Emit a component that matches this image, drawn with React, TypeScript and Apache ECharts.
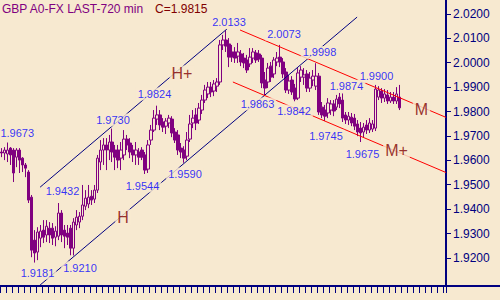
import React, { useEffect, useRef } from "react";
import * as echarts from "echarts";

const BG = "#F7E9D0";
const PURPLE = "#800080";
const NAVY = "#000080";
const DARKRED = "#800000";
const BLUE = "#0000FF";
const RED = "#FF0000";
const FONT = '"Liberation Sans", Arial, sans-serif';

const titleText = "GBP A0-FX LAST-720 min";

// 720-minute bars: [open, close, low, high]
const candles: number[][] = [
  [1.9634, 1.9630, 1.9613, 1.9650],
  [1.9630, 1.9642, 1.9601, 1.9654],
  [1.9626, 1.9642, 1.9593, 1.9673],
  [1.9650, 1.9622, 1.9581, 1.9654],
  [1.9642, 1.9548, 1.9511, 1.9650],
  [1.9613, 1.9642, 1.9572, 1.9650],
  [1.9642, 1.9601, 1.9548, 1.9650],
  [1.9609, 1.9581, 1.9552, 1.9613],
  [1.9581, 1.9568, 1.9531, 1.9589],
  [1.9552, 1.9437, 1.9425, 1.9560],
  [1.9449, 1.9232, 1.9203, 1.9458],
  [1.9273, 1.9220, 1.9181, 1.9314],
  [1.9224, 1.9306, 1.9191, 1.9326],
  [1.9281, 1.9310, 1.9244, 1.9335],
  [1.9314, 1.9285, 1.9261, 1.9355],
  [1.9294, 1.9330, 1.9265, 1.9355],
  [1.9322, 1.9294, 1.9261, 1.9347],
  [1.9322, 1.9281, 1.9253, 1.9343],
  [1.9285, 1.9310, 1.9248, 1.9330],
  [1.9289, 1.9384, 1.9273, 1.9425],
  [1.9384, 1.9294, 1.9265, 1.9396],
  [1.9314, 1.9289, 1.9240, 1.9335],
  [1.9302, 1.9285, 1.9253, 1.9335],
  [1.9322, 1.9240, 1.9211, 1.9335],
  [1.9240, 1.9347, 1.9210, 1.9363],
  [1.9335, 1.9367, 1.9314, 1.9396],
  [1.9347, 1.9371, 1.9322, 1.9388],
  [1.9371, 1.9417, 1.9355, 1.9499],
  [1.9412, 1.9445, 1.9396, 1.9478],
  [1.9421, 1.9449, 1.9404, 1.9499],
  [1.9453, 1.9437, 1.9417, 1.9478],
  [1.9441, 1.9478, 1.9425, 1.9499],
  [1.9478, 1.9609, 1.9466, 1.9622],
  [1.9593, 1.9642, 1.9560, 1.9683],
  [1.9642, 1.9663, 1.9581, 1.9691],
  [1.9663, 1.9642, 1.9560, 1.9691],
  [1.9642, 1.9675, 1.9601, 1.9704],
  [1.9675, 1.9634, 1.9593, 1.9730],
  [1.9642, 1.9613, 1.9560, 1.9663],
  [1.9642, 1.9601, 1.9568, 1.9663],
  [1.9609, 1.9642, 1.9560, 1.9675],
  [1.9622, 1.9687, 1.9601, 1.9724],
  [1.9687, 1.9663, 1.9642, 1.9704],
  [1.9671, 1.9634, 1.9609, 1.9691],
  [1.9642, 1.9622, 1.9593, 1.9663],
  [1.9622, 1.9642, 1.9581, 1.9675],
  [1.9634, 1.9613, 1.9581, 1.9650],
  [1.9642, 1.9613, 1.9601, 1.9654],
  [1.9622, 1.9560, 1.9544, 1.9634],
  [1.9564, 1.9663, 1.9548, 1.9683],
  [1.9683, 1.9724, 1.9663, 1.9745],
  [1.9724, 1.9773, 1.9716, 1.9806],
  [1.9769, 1.9786, 1.9745, 1.9824],
  [1.9786, 1.9745, 1.9724, 1.9806],
  [1.9757, 1.9736, 1.9716, 1.9773],
  [1.9740, 1.9761, 1.9708, 1.9773],
  [1.9753, 1.9773, 1.9732, 1.9786],
  [1.9769, 1.9712, 1.9695, 1.9781],
  [1.9716, 1.9683, 1.9671, 1.9732],
  [1.9704, 1.9642, 1.9622, 1.9724],
  [1.9650, 1.9634, 1.9609, 1.9671],
  [1.9642, 1.9609, 1.9590, 1.9658],
  [1.9617, 1.9683, 1.9601, 1.9716],
  [1.9687, 1.9749, 1.9675, 1.9786],
  [1.9753, 1.9773, 1.9732, 1.9806],
  [1.9786, 1.9753, 1.9724, 1.9814],
  [1.9765, 1.9814, 1.9749, 1.9835],
  [1.9806, 1.9847, 1.9790, 1.9868],
  [1.9847, 1.9888, 1.9835, 1.9909],
  [1.9872, 1.9900, 1.9855, 1.9921],
  [1.9900, 1.9880, 1.9859, 1.9921],
  [1.9884, 1.9913, 1.9863, 1.9929],
  [1.9904, 1.9921, 1.9880, 1.9937],
  [1.9921, 2.0073, 1.9909, 2.0093],
  [2.0073, 2.0093, 2.0052, 2.0114],
  [2.0093, 2.0068, 2.0044, 2.0133],
  [2.0077, 2.0023, 1.9982, 2.0101],
  [2.0044, 2.0023, 2.0003, 2.0073],
  [2.0044, 2.0019, 1.9999, 2.0064],
  [2.0027, 2.0044, 1.9999, 2.0081],
  [2.0036, 2.0003, 1.9986, 2.0052],
  [2.0019, 1.9999, 1.9978, 2.0040],
  [2.0011, 1.9970, 1.9958, 2.0032],
  [1.9995, 2.0023, 1.9982, 2.0060],
  [2.0019, 2.0044, 1.9999, 2.0060],
  [2.0040, 2.0011, 1.9999, 2.0052],
  [2.0036, 2.0015, 2.0003, 2.0052],
  [2.0019, 1.9917, 1.9896, 2.0032],
  [1.9929, 1.9896, 1.9863, 1.9962],
  [1.9921, 1.9978, 1.9896, 1.9999],
  [1.9986, 1.9941, 1.9921, 2.0003],
  [1.9954, 2.0011, 1.9937, 2.0023],
  [2.0003, 2.0019, 1.9986, 2.0044],
  [2.0023, 2.0003, 1.9982, 2.0073],
  [2.0003, 1.9954, 1.9937, 2.0019],
  [1.9962, 1.9888, 1.9876, 1.9978],
  [1.9888, 1.9925, 1.9872, 1.9950],
  [1.9929, 1.9880, 1.9868, 1.9945],
  [1.9896, 1.9851, 1.9842, 1.9913],
  [1.9855, 1.9958, 1.9847, 1.9978],
  [1.9941, 1.9970, 1.9921, 1.9986],
  [1.9941, 1.9950, 1.9909, 1.9978],
  [1.9954, 1.9896, 1.9880, 1.9970],
  [1.9896, 1.9937, 1.9880, 1.9962],
  [1.9929, 1.9945, 1.9904, 1.9970],
  [1.9904, 1.9945, 1.9888, 1.9998],
  [1.9945, 1.9798, 1.9786, 1.9958],
  [1.9818, 1.9786, 1.9773, 1.9839],
  [1.9806, 1.9781, 1.9761, 1.9827],
  [1.9794, 1.9835, 1.9773, 1.9855],
  [1.9806, 1.9831, 1.9786, 1.9847],
  [1.9831, 1.9802, 1.9781, 1.9847],
  [1.9818, 1.9851, 1.9806, 1.9868],
  [1.9859, 1.9831, 1.9814, 1.9876],
  [1.9847, 1.9773, 1.9757, 1.9874],
  [1.9786, 1.9765, 1.9749, 1.9798],
  [1.9765, 1.9781, 1.9745, 1.9798],
  [1.9777, 1.9753, 1.9740, 1.9794],
  [1.9773, 1.9740, 1.9724, 1.9790],
  [1.9749, 1.9716, 1.9699, 1.9765],
  [1.9732, 1.9712, 1.9675, 1.9757],
  [1.9716, 1.9736, 1.9695, 1.9753],
  [1.9745, 1.9724, 1.9708, 1.9765],
  [1.9724, 1.9753, 1.9712, 1.9773],
  [1.9728, 1.9749, 1.9716, 1.9765],
  [1.9732, 1.9892, 1.9720, 1.9909],
  [1.9859, 1.9888, 1.9847, 1.9904],
  [1.9884, 1.9855, 1.9835, 1.9896],
  [1.9855, 1.9872, 1.9839, 1.9892],
  [1.9868, 1.9843, 1.9831, 1.9888],
  [1.9843, 1.9859, 1.9835, 1.9880],
  [1.9859, 1.9843, 1.9831, 1.9880],
  [1.9843, 1.9872, 1.9831, 1.9900],
  [1.9859, 1.9815, 1.9806, 1.9909],
];

// number of bar slots on the time axis (includes empty space to the right)
const slotCount = 149;
const slots = Array.from({ length: slotCount }, (_, i) => String(i));

// price axis
const priceMin = 1.9085;
const priceMax = 2.0257;
const priceTicks = [1.92, 1.93, 1.94, 1.95, 1.96, 1.97, 1.98, 1.99, 2.0, 2.01, 2.02];

// trend channels: [bar index, price]
const riseUpper = [[12.9, 1.949], [75.3, 2.0138]];
const riseLower = [[12.9, 1.9089], [118.8, 2.0187]];
const fallUpper = [[79.7, 2.0134], [148.5, 1.9776]];
const fallLower = [[77.3, 1.9921], [148.5, 1.955]];

// pivot value labels: [bar index, price, text]
const pivotLabels: [number, number, string][] = [
  [5.25, 1.9712, "1.9673"],
  [37.25, 1.9765, "1.9730"],
  [51.1, 1.9872, "1.9824"],
  [76.0, 2.0165, "2.0133"],
  [20.38, 1.9474, "1.9432"],
  [12.03, 1.9138, "1.9181"],
  [26.23, 1.916, "1.9210"],
  [47.11, 1.9495, "1.9544"],
  [61.3, 1.9544, "1.9590"],
  [94.38, 2.0118, "2.0073"],
  [106.24, 2.0042, "1.9998"],
  [85.52, 1.9831, "1.9863"],
  [97.72, 1.9802, "1.9842"],
  [115.26, 1.9904, "1.9874"],
  [125.28, 1.9945, "1.9900"],
  [108.41, 1.9699, "1.9745"],
  [120.6, 1.9626, "1.9675"],
];

// channel names: [bar index, price, text]
const channelNames: [number, number, string][] = [
  [60.3, 1.9956, "H+"],
  [40.59, 1.9367, "H"],
  [140.3, 1.981, "M"],
  [131.96, 1.964, "M+"],
];

const lastClose = candles[candles.length - 1][1];

export default function App() {
  const ref = useRef<HTMLDivElement>(null);
  useEffect(() => {
    if (!ref.current) return;
    const chart = echarts.init(ref.current, undefined, { renderer: "svg" });
    const lineSeries = (data: number[][], color: string) => ({
      type: "line",
      xAxisIndex: 1,
      data,
      symbol: "none",
      silent: true,
      z: 3,
      lineStyle: { color, width: 1 },
    });
    const option: any = {
      animation: false,
      backgroundColor: BG,
      title: {
        left: 2,
        top: 3,
        padding: 0,
        text: `{a|${titleText}}{b|C=${lastClose.toFixed(4)}}`,
        textStyle: {
          fontSize: 12,
          fontWeight: "normal",
          fontFamily: FONT,
          rich: {
            a: { color: PURPLE, fontSize: 12, fontFamily: FONT },
            b: { color: DARKRED, fontSize: 12, fontFamily: FONT, padding: [0, 0, 0, 11] },
          },
        },
      },
      grid: { left: 0, right: 54, top: 0, bottom: 14, containLabel: false },
      xAxis: [
        {
          type: "category",
          data: slots,
          boundaryGap: true,
          axisLine: { onZero: false, lineStyle: { color: NAVY, width: 2 } },
          axisTick: { show: true, interval: 1, length: 7, lineStyle: { color: NAVY, width: 1 } },
          axisLabel: { show: false },
          splitLine: { show: false },
        },
        { type: "value", min: -0.5, max: 148.5, show: false },
      ],
      yAxis: {
        type: "value",
        position: "right",
        min: priceMin,
        max: priceMax,
        axisLine: { show: true, onZero: false, lineStyle: { color: NAVY, width: 2 } },
        axisTick: { show: true, length: 5, customValues: priceTicks, lineStyle: { color: NAVY, width: 1 } },
        axisLabel: {
          customValues: priceTicks,
          formatter: (v: number) => v.toFixed(4),
          color: NAVY,
          fontSize: 12,
          fontFamily: FONT,
          margin: 7,
        },
        splitLine: { show: false },
      },
      series: [
        {
          type: "candlestick",
          data: candles,
          barWidth: 3,
          silent: true,
          z: 2,
          itemStyle: {
            color: BG,
            color0: PURPLE,
            borderColor: PURPLE,
            borderColor0: PURPLE,
            borderColorDoji: PURPLE,
            borderWidth: 1,
          },
        },
        lineSeries(riseUpper, NAVY),
        lineSeries(riseLower, NAVY),
        lineSeries(fallUpper, RED),
        lineSeries(fallLower, RED),
        {
          type: "scatter",
          xAxisIndex: 1,
          silent: true,
          z: 10,
          symbolSize: 1,
          itemStyle: { color: "rgba(0,0,0,0)" },
          data: pivotLabels.map(([x, y, t]) => ({ value: [x, y], name: t })),
          label: {
            show: true,
            position: "inside",
            formatter: "{b}",
            color: BLUE,
            fontSize: 11,
            fontFamily: FONT,
            backgroundColor: BG,
            padding: [1, 2],
          },
        },
        {
          type: "scatter",
          xAxisIndex: 1,
          silent: true,
          z: 10,
          symbolSize: 1,
          itemStyle: { color: "rgba(0,0,0,0)" },
          data: channelNames.map(([x, y, t]) => ({ value: [x, y], name: t })),
          label: {
            show: true,
            position: "inside",
            formatter: "{b}",
            color: DARKRED,
            fontSize: 16,
            fontFamily: FONT,
            backgroundColor: BG,
            padding: [0, 2],
          },
        },
      ],
      graphic: [
        {
          type: "line",
          shape: { x1: 446, y1: 286, x2: 500, y2: 286 },
          style: { stroke: NAVY, lineWidth: 2 },
          silent: true,
        },
      ],
    };
    chart.setOption(option);
    return () => chart.dispose();
  }, []);
  return (
    <div
      ref={ref}
      style={{ position: "fixed", left: 0, top: 0, width: 500, height: 300 }}
    />
  );
}
